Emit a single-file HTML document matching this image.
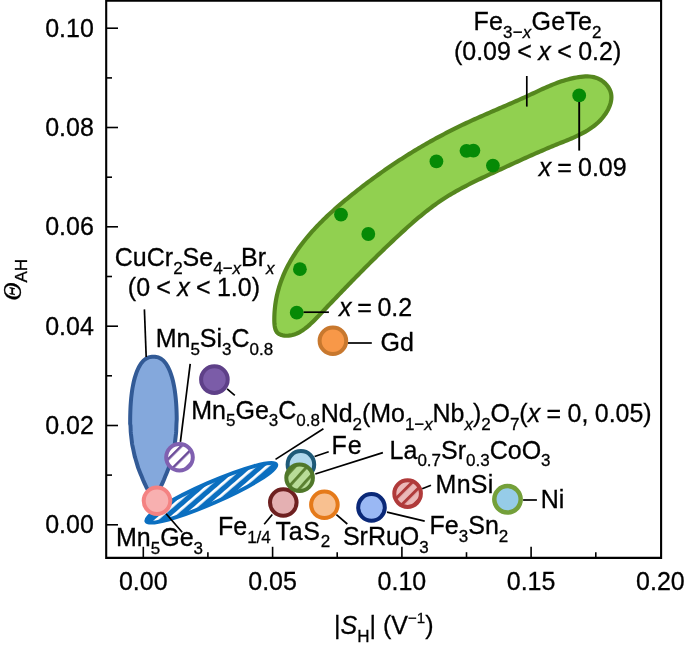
<!DOCTYPE html><html><head><meta charset="utf-8"><style>
html,body{margin:0;padding:0;background:#fff;width:685px;height:653px;overflow:hidden}
svg{display:block;will-change:transform}
text{font-family:"Liberation Sans",sans-serif;font-size:25px;fill:#000;stroke:#000;stroke-width:0.3px}
.s{font-size:17px}
.i{font-style:italic}
.th{font-family:"Liberation Serif",serif;font-style:italic}
</style></head><body>
<svg width="685" height="653" viewBox="0 0 685 653">
<defs>
<pattern id="hb" patternUnits="userSpaceOnUse" width="8" height="8" patternTransform="translate(211 492) rotate(72.7)">
<rect width="8" height="8" fill="#0b6fc0"/><rect x="0" y="0" width="2.8" height="8" fill="#fff"/></pattern>
<pattern id="hp" patternUnits="userSpaceOnUse" width="9.4" height="9.4" patternTransform="translate(179.5 457.2) rotate(45) translate(1.55 0)">
<rect width="9.4" height="9.4" fill="#fff"/><rect x="0" y="0" width="2.5" height="9.4" fill="#6a4a98"/></pattern>
<pattern id="hg" patternUnits="userSpaceOnUse" width="9" height="9" patternTransform="translate(299.6 477.8) rotate(42) translate(5.6 0)">
<rect width="9" height="9" fill="#b8dc98"/><rect x="0" y="0" width="2.9" height="9" fill="#5a8030"/></pattern>
<pattern id="hr" patternUnits="userSpaceOnUse" width="8.5" height="8.5" patternTransform="translate(407.6 493.6) rotate(45) translate(2.3 0)">
<rect width="8.5" height="8.5" fill="#ebb8b8"/><rect x="0" y="0" width="3" height="8.5" fill="#b03a3a"/></pattern>
</defs>

<path d="M106.2,557.9 L106.2,0.6 L661.1,0.6 L661.1,557.9 Z" fill="none" stroke="#000" stroke-width="2.1"/>
<line x1="106.2" y1="524.8" x2="118" y2="524.8" stroke="#000" stroke-width="1.6"/>
<line x1="106.2" y1="475.1" x2="112" y2="475.1" stroke="#000" stroke-width="1.6"/>
<line x1="106.2" y1="425.5" x2="118" y2="425.5" stroke="#000" stroke-width="1.6"/>
<line x1="106.2" y1="375.8" x2="112" y2="375.8" stroke="#000" stroke-width="1.6"/>
<line x1="106.2" y1="326.2" x2="118" y2="326.2" stroke="#000" stroke-width="1.6"/>
<line x1="106.2" y1="276.5" x2="112" y2="276.5" stroke="#000" stroke-width="1.6"/>
<line x1="106.2" y1="226.8" x2="118" y2="226.8" stroke="#000" stroke-width="1.6"/>
<line x1="106.2" y1="177.2" x2="112" y2="177.2" stroke="#000" stroke-width="1.6"/>
<line x1="106.2" y1="127.5" x2="118" y2="127.5" stroke="#000" stroke-width="1.6"/>
<line x1="106.2" y1="77.9" x2="112" y2="77.9" stroke="#000" stroke-width="1.6"/>
<line x1="106.2" y1="28.2" x2="118" y2="28.2" stroke="#000" stroke-width="1.6"/>
<line x1="143.3" y1="557.9" x2="143.3" y2="546.8" stroke="#000" stroke-width="1.6"/>
<line x1="207.9" y1="557.9" x2="207.9" y2="552.2" stroke="#000" stroke-width="1.6"/>
<line x1="272.6" y1="557.9" x2="272.6" y2="546.8" stroke="#000" stroke-width="1.6"/>
<line x1="337.2" y1="557.9" x2="337.2" y2="552.2" stroke="#000" stroke-width="1.6"/>
<line x1="401.9" y1="557.9" x2="401.9" y2="546.8" stroke="#000" stroke-width="1.6"/>
<line x1="466.5" y1="557.9" x2="466.5" y2="552.2" stroke="#000" stroke-width="1.6"/>
<line x1="531.1" y1="557.9" x2="531.1" y2="546.8" stroke="#000" stroke-width="1.6"/>
<line x1="595.8" y1="557.9" x2="595.8" y2="552.2" stroke="#000" stroke-width="1.6"/>
<text x="93.9" y="533.4" text-anchor="end">0.00</text>
<text x="93.9" y="434.1" text-anchor="end">0.02</text>
<text x="93.9" y="334.8" text-anchor="end">0.04</text>
<text x="93.9" y="235.4" text-anchor="end">0.06</text>
<text x="93.9" y="136.1" text-anchor="end">0.08</text>
<text x="93.9" y="36.8" text-anchor="end">0.10</text>
<text x="143.3" y="590.4" text-anchor="middle">0.00</text>
<text x="272.6" y="590.4" text-anchor="middle">0.05</text>
<text x="401.9" y="590.4" text-anchor="middle">0.10</text>
<text x="531.1" y="590.4" text-anchor="middle">0.15</text>
<text x="660.4" y="590.4" text-anchor="middle">0.20</text>
<text transform="translate(20.6,299.6) rotate(-90)"><tspan class="th" x="-1">Θ</tspan><tspan class="s" dy="6.4">AH</tspan></text>
<text x="334.1" y="633.8">|<tspan class="i">S</tspan><tspan class="s" dy="7.9">H</tspan><tspan dy="-7.9">| (V</tspan><tspan class="s" style="font-size:15px" dy="-11">−1</tspan><tspan dy="11">)</tspan></text>
<path d="M274.32,318.69 L274.36,316.34 L274.45,314.00 L274.59,311.69 L274.78,309.40 L275.01,307.12 L275.28,304.87 L275.60,302.63 L275.96,300.41 L276.37,298.21 L276.81,296.03 L277.30,293.87 L277.83,291.72 L278.40,289.59 L279.00,287.48 L279.65,285.39 L280.33,283.31 L281.06,281.25 L281.82,279.20 L282.61,277.17 L283.44,275.16 L284.31,273.16 L285.21,271.18 L286.14,269.22 L287.11,267.27 L288.11,265.33 L289.14,263.41 L290.20,261.50 L291.29,259.61 L292.41,257.74 L293.57,255.88 L294.75,254.03 L295.95,252.19 L297.19,250.37 L298.45,248.57 L299.74,246.77 L301.06,244.99 L302.39,243.23 L303.76,241.47 L305.14,239.73 L306.55,238.00 L307.98,236.29 L309.44,234.59 L310.91,232.90 L312.41,231.22 L313.92,229.55 L315.45,227.90 L317.00,226.25 L318.57,224.62 L320.16,223.00 L321.76,221.40 L323.37,219.80 L325.01,218.21 L326.65,216.64 L328.31,215.07 L329.98,213.52 L331.67,211.97 L333.36,210.44 L335.07,208.91 L336.79,207.40 L338.52,205.90 L340.25,204.40 L342.00,202.92 L343.75,201.44 L345.51,199.97 L347.27,198.51 L349.04,197.06 L350.82,195.62 L352.60,194.19 L354.38,192.77 L356.17,191.35 L357.96,189.94 L359.75,188.55 L361.54,187.16 L363.34,185.77 L365.14,184.40 L366.95,183.03 L368.75,181.68 L370.56,180.33 L372.38,178.99 L374.19,177.66 L376.01,176.33 L377.84,175.02 L379.66,173.71 L381.49,172.41 L383.33,171.12 L385.16,169.84 L387.01,168.56 L388.85,167.30 L390.70,166.04 L392.55,164.79 L394.41,163.54 L396.27,162.31 L398.13,161.08 L400.00,159.86 L401.87,158.65 L403.75,157.45 L405.63,156.26 L407.52,155.07 L409.41,153.89 L411.30,152.72 L413.20,151.56 L415.10,150.40 L417.01,149.25 L418.92,148.11 L420.84,146.98 L422.76,145.86 L424.69,144.74 L426.62,143.63 L428.55,142.53 L430.50,141.43 L432.44,140.35 L434.39,139.27 L436.35,138.20 L438.31,137.13 L440.28,136.08 L442.25,135.03 L444.23,133.99 L446.21,132.95 L448.20,131.93 L450.20,130.91 L452.20,129.90 L454.20,128.89 L456.21,127.90 L458.23,126.91 L460.25,125.93 L462.28,124.95 L464.32,123.98 L466.36,123.02 L468.41,122.07 L470.46,121.12 L472.52,120.18 L474.58,119.25 L476.65,118.32 L478.73,117.39 L480.81,116.47 L482.89,115.55 L484.97,114.64 L487.06,113.73 L489.15,112.82 L491.24,111.91 L493.33,111.01 L495.43,110.10 L497.52,109.20 L499.62,108.29 L501.71,107.39 L503.81,106.48 L505.90,105.58 L508.00,104.67 L510.09,103.76 L512.18,102.85 L514.26,101.93 L516.35,101.01 L518.43,100.09 L520.50,99.16 L522.57,98.23 L524.64,97.29 L526.70,96.34 L528.76,95.39 L530.81,94.44 L532.85,93.48 L534.89,92.53 L536.93,91.58 L538.96,90.63 L540.99,89.70 L543.01,88.77 L545.04,87.86 L547.08,86.96 L549.11,86.08 L551.15,85.23 L553.20,84.39 L555.25,83.58 L557.31,82.80 L559.38,82.06 L561.46,81.34 L563.56,80.66 L565.67,80.02 L567.79,79.41 L569.93,78.85 L572.09,78.34 L574.26,77.87 L576.46,77.45 L578.67,77.09 L580.89,76.79 L583.11,76.57 L585.31,76.44 L587.49,76.42 L589.63,76.52 L591.74,76.76 L593.80,77.14 L595.80,77.68 L597.75,78.40 L599.64,79.30 L601.46,80.39 L603.21,81.65 L604.84,83.07 L606.34,84.61 L607.68,86.26 L608.83,87.98 L609.79,89.76 L610.51,91.57 L611.02,93.40 L611.31,95.27 L611.41,97.18 L611.31,99.11 L611.04,101.06 L610.60,103.03 L610.00,105.00 L609.24,106.96 L608.35,108.91 L607.34,110.83 L606.21,112.71 L604.98,114.55 L603.66,116.32 L602.28,118.03 L600.83,119.67 L599.33,121.23 L597.77,122.72 L596.15,124.15 L594.49,125.52 L592.77,126.83 L591.01,128.09 L589.21,129.30 L587.36,130.46 L585.48,131.58 L583.56,132.65 L581.61,133.69 L579.62,134.70 L577.61,135.67 L575.58,136.62 L573.52,137.55 L571.44,138.45 L569.35,139.34 L567.24,140.21 L565.13,141.08 L563.00,141.94 L560.88,142.80 L558.75,143.66 L556.62,144.52 L554.50,145.39 L552.38,146.26 L550.27,147.14 L548.17,148.03 L546.07,148.91 L543.98,149.81 L541.89,150.70 L539.81,151.60 L537.73,152.51 L535.66,153.42 L533.59,154.33 L531.52,155.24 L529.46,156.16 L527.40,157.08 L525.35,158.01 L523.29,158.93 L521.24,159.86 L519.20,160.79 L517.15,161.72 L515.11,162.66 L513.06,163.59 L511.02,164.53 L508.98,165.47 L506.94,166.41 L504.90,167.35 L502.86,168.29 L500.82,169.23 L498.78,170.17 L496.74,171.11 L494.70,172.05 L492.65,173.00 L490.61,173.94 L488.56,174.89 L486.52,175.85 L484.47,176.81 L482.43,177.77 L480.39,178.74 L478.35,179.72 L476.32,180.70 L474.28,181.70 L472.25,182.70 L470.23,183.72 L468.21,184.75 L466.19,185.78 L464.18,186.84 L462.18,187.90 L460.18,188.98 L458.19,190.08 L456.20,191.19 L454.23,192.32 L452.26,193.47 L450.30,194.63 L448.35,195.82 L446.42,197.03 L444.49,198.25 L442.57,199.50 L440.66,200.77 L438.77,202.07 L436.89,203.38 L435.02,204.72 L433.17,206.07 L431.32,207.44 L429.49,208.83 L427.67,210.24 L425.86,211.66 L424.06,213.10 L422.27,214.54 L420.50,216.01 L418.73,217.48 L416.97,218.96 L415.23,220.46 L413.49,221.96 L411.76,223.47 L410.04,224.99 L408.33,226.51 L406.63,228.04 L404.94,229.57 L403.26,231.11 L401.58,232.64 L399.91,234.18 L398.25,235.72 L396.60,237.27 L394.95,238.81 L393.31,240.35 L391.68,241.89 L390.05,243.43 L388.42,244.98 L386.81,246.52 L385.19,248.07 L383.59,249.62 L381.98,251.16 L380.38,252.72 L378.79,254.27 L377.20,255.82 L375.61,257.38 L374.02,258.94 L372.44,260.50 L370.86,262.06 L369.29,263.63 L367.71,265.20 L366.14,266.77 L364.57,268.35 L362.99,269.93 L361.42,271.51 L359.86,273.10 L358.29,274.69 L356.72,276.28 L355.15,277.88 L353.58,279.48 L352.01,281.09 L350.44,282.70 L348.87,284.32 L347.29,285.94 L345.72,287.56 L344.14,289.19 L342.56,290.83 L340.98,292.47 L339.39,294.12 L337.81,295.77 L336.21,297.43 L334.62,299.09 L333.02,300.76 L331.42,302.44 L329.81,304.12 L328.19,305.81 L326.58,307.51 L324.95,309.21 L323.32,310.92 L321.69,312.64 L320.05,314.36 L318.41,316.09 L316.76,317.80 L315.11,319.49 L313.44,321.15 L311.77,322.77 L310.09,324.34 L308.40,325.85 L306.69,327.28 L304.96,328.63 L303.22,329.89 L301.47,331.06 L299.69,332.11 L297.90,333.04 L296.09,333.85 L294.25,334.52 L292.39,335.06 L290.50,335.44 L288.58,335.67 L286.61,335.74 L284.63,335.63 L282.71,335.34 L280.92,334.85 L279.34,334.17 L278.02,333.31 L276.97,332.26 L276.12,330.96 L275.46,329.38 L274.96,327.55 L274.62,325.51 L274.41,323.32 L274.32,321.03Z" fill="#91d050" stroke="#55871e" stroke-width="4.2" stroke-linejoin="round"/>
<circle cx="296.7" cy="312.7" r="6.9" fill="#068a06"/>
<circle cx="299.9" cy="269.2" r="6.9" fill="#068a06"/>
<circle cx="341.0" cy="214.6" r="6.9" fill="#068a06"/>
<circle cx="368.3" cy="234.0" r="6.9" fill="#068a06"/>
<circle cx="436.4" cy="161.4" r="6.9" fill="#068a06"/>
<circle cx="466.5" cy="150.8" r="6.9" fill="#068a06"/>
<circle cx="473.4" cy="150.6" r="6.9" fill="#068a06"/>
<circle cx="492.9" cy="165.6" r="6.9" fill="#068a06"/>
<circle cx="579.2" cy="95.4" r="6.9" fill="#068a06"/>
<line x1="303.6" y1="312.2" x2="328.9" y2="312.2" stroke="#000" stroke-width="1.7"/>
<line x1="579.2" y1="102" x2="579.2" y2="150.6" stroke="#000" stroke-width="1.9"/>
<line x1="526.8" y1="76" x2="526.8" y2="106.6" stroke="#000" stroke-width="1.7"/>
<path d="M130.15,423.89 L130.17,419.36 L130.21,415.74 L130.30,412.44 L130.41,409.34 L130.55,406.38 L130.73,403.55 L130.94,400.82 L131.18,398.19 L131.45,395.64 L131.75,393.18 L132.08,390.80 L132.44,388.49 L132.83,386.27 L133.26,384.12 L133.71,382.04 L134.19,380.05 L134.69,378.13 L135.23,376.29 L135.79,374.53 L136.37,372.85 L136.99,371.25 L137.62,369.73 L138.29,368.29 L138.97,366.94 L139.67,365.68 L140.40,364.50 L141.14,363.40 L141.91,362.40 L142.69,361.48 L143.49,360.65 L144.30,359.90 L145.13,359.24 L145.97,358.67 L146.84,358.17 L147.74,357.76 L148.66,357.42 L149.64,357.15 L150.69,356.96 L151.86,356.84 L153.45,356.80 L155.04,356.84 L156.21,356.96 L157.26,357.15 L158.24,357.42 L159.16,357.76 L160.06,358.17 L160.93,358.67 L161.77,359.24 L162.60,359.90 L163.41,360.65 L164.21,361.48 L164.99,362.40 L165.76,363.40 L166.50,364.50 L167.23,365.68 L167.93,366.94 L168.61,368.29 L169.28,369.73 L169.91,371.25 L170.53,372.85 L171.11,374.53 L171.67,376.29 L172.21,378.13 L172.71,380.05 L173.19,382.04 L173.64,384.12 L174.07,386.27 L174.46,388.49 L174.82,390.80 L175.15,393.18 L175.45,395.64 L175.72,398.19 L175.96,400.82 L176.17,403.55 L176.35,406.38 L176.49,409.34 L176.60,412.44 L176.69,415.74 L176.73,419.28 L176.45,423.89 L176.38,425.88 L176.31,427.83 L176.24,429.77 L176.17,431.66 L176.00,433.54 L175.77,435.46 L175.55,437.41 L175.33,439.36 L175.10,441.31 L174.89,443.21 L174.58,445.06 L174.17,446.96 L173.75,448.91 L173.33,450.86 L172.91,452.81 L172.50,454.75 L172.07,456.62 L171.50,458.50 L170.92,460.45 L170.34,462.40 L169.75,464.35 L169.17,466.30 L168.61,468.16 L167.87,470.02 L167.09,471.96 L166.29,473.91 L165.50,475.86 L164.71,477.81 L163.93,479.73 L163.09,481.64 L162.20,483.58 L161.31,485.52 L160.45,487.39 L159.39,489.24 L158.22,491.17 L157.06,493.11 L156.01,494.82 L154.12,496.60 L153.45,498.00 L152.78,496.60 L150.89,494.82 L149.84,493.11 L148.68,491.17 L147.51,489.24 L146.45,487.39 L145.59,485.52 L144.70,483.58 L143.81,481.64 L142.97,479.73 L142.19,477.81 L141.40,475.86 L140.61,473.91 L139.81,471.96 L139.03,470.02 L138.29,468.16 L137.73,466.30 L137.15,464.35 L136.56,462.40 L135.98,460.45 L135.40,458.50 L134.83,456.62 L134.40,454.75 L133.99,452.81 L133.57,450.86 L133.15,448.91 L132.73,446.96 L132.32,445.06 L132.01,443.21 L131.80,441.31 L131.57,439.36 L131.35,437.41 L131.13,435.46 L130.90,433.54 L130.73,431.66 L130.66,429.77 L130.59,427.83 L130.51,425.72Z" fill="#84a8dc" stroke="#325a96" stroke-width="4"/>
<line x1="144.4" y1="309.4" x2="146.2" y2="357" stroke="#000" stroke-width="1.7"/>
<ellipse cx="211.3" cy="492.8" rx="70.8" ry="10.3" transform="rotate(-23.6 211.3 492.8)" fill="url(#hb)" stroke="#0b6fc0" stroke-width="3.9"/>
<circle cx="332.9" cy="340.8" r="13.3" fill="#f89848" stroke="#c8782e" stroke-width="4"/>
<circle cx="214.4" cy="379.6" r="13.3" fill="#7b5ca8" stroke="#5e4088" stroke-width="4"/>
<circle cx="179.5" cy="457.2" r="13.3" fill="url(#hp)" stroke="#8060b0" stroke-width="4"/>
<circle cx="157.0" cy="500.8" r="13.3" fill="#f8b0b0" stroke="#f48282" stroke-width="4"/>
<circle cx="283.3" cy="502.5" r="13.3" fill="#e4b0b2" stroke="#6e2020" stroke-width="4"/>
<circle cx="300.9" cy="464.4" r="13.3" fill="#b0d8ec" stroke="#1e5a78" stroke-width="4"/>
<circle cx="299.6" cy="477.8" r="13.3" fill="url(#hg)" stroke="#50782a" stroke-width="4"/>
<circle cx="324.4" cy="504.8" r="13.3" fill="#f8c090" stroke="#e57a1a" stroke-width="4"/>
<circle cx="371.5" cy="507.4" r="13.3" fill="#9ab8f4" stroke="#0a2878" stroke-width="4"/>
<circle cx="407.6" cy="493.6" r="13.3" fill="url(#hr)" stroke="#b03a3a" stroke-width="4"/>
<circle cx="507.5" cy="499.3" r="13.2" fill="#96cce8" stroke="#74a03a" stroke-width="4.5"/>
<line x1="348" y1="343" x2="371.8" y2="343" stroke="#000" stroke-width="1.7"/>
<line x1="190.2" y1="363.8" x2="180.4" y2="441.9" stroke="#000" stroke-width="1.7"/>
<line x1="227.1" y1="388.8" x2="234.8" y2="395.4" stroke="#000" stroke-width="1.7"/>
<line x1="275.5" y1="459.4" x2="323.4" y2="428.8" stroke="#000" stroke-width="1.7"/>
<line x1="314.6" y1="456.5" x2="328.7" y2="451.8" stroke="#000" stroke-width="1.7"/>
<line x1="315.3" y1="474" x2="382.9" y2="452.6" stroke="#000" stroke-width="1.7"/>
<line x1="422.2" y1="488.8" x2="431" y2="485.3" stroke="#000" stroke-width="1.7"/>
<line x1="523.1" y1="500" x2="536.9" y2="500" stroke="#000" stroke-width="1.7"/>
<line x1="166.1" y1="513.8" x2="182.2" y2="532.2" stroke="#000" stroke-width="1.7"/>
<line x1="272.3" y1="514.5" x2="264.2" y2="524.2" stroke="#000" stroke-width="1.7"/>
<line x1="336.4" y1="514.6" x2="347.3" y2="524" stroke="#000" stroke-width="1.7"/>
<line x1="387" y1="512.2" x2="424.7" y2="521.1" stroke="#000" stroke-width="1.7"/>
<text x="473.45" y="30.4" style="letter-spacing:0.2px">Fe<tspan class="s" dy="7.9">3−<tspan class="i">x</tspan></tspan><tspan dy="-7.9">GeTe</tspan><tspan class="s" dy="7.9">2</tspan></text>
<text x="453.95" y="60.3" style="word-spacing:-0.55px">(0.09 &lt; <tspan class="i">x</tspan> &lt; 0.2)</text>
<text x="538.8" y="175.6" style="word-spacing:-0.9px"><tspan class="i">x</tspan> = 0.09</text>
<text x="339" y="315.6" style="word-spacing:-1.3px"><tspan class="i">x</tspan> = 0.2</text>
<text x="380.5" y="350.5">Gd</text>
<text x="114.8" y="265.8">CuCr<tspan class="s" dy="7.9">2</tspan><tspan dy="-7.9">Se</tspan><tspan class="s" dy="7.9">4−<tspan class="i">x</tspan></tspan><tspan dy="-7.9">Br</tspan><tspan class="s i" dy="7.9">x</tspan></text>
<text x="127.85" y="295.5" style="word-spacing:-0.65px">(0 &lt; <tspan class="i">x</tspan> &lt; 1.0)</text>
<text x="155.65" y="347.3">Mn<tspan class="s" dy="7.9">5</tspan><tspan dy="-7.9">Si</tspan><tspan class="s" dy="7.9">3</tspan><tspan dy="-7.9">C</tspan><tspan class="s" dy="7.9">0.8</tspan></text>
<text x="191.25" y="418.5">Mn<tspan class="s" dy="7.9">5</tspan><tspan dy="-7.9">Ge</tspan><tspan class="s" dy="7.9">3</tspan><tspan dy="-7.9">C</tspan><tspan class="s" dy="7.9">0.8</tspan></text>
<text x="320.75" y="422.3" style="letter-spacing:-0.06px;word-spacing:-0.4px">Nd<tspan class="s" dy="7.9">2</tspan><tspan dy="-7.9">(Mo</tspan><tspan class="s" dy="7.9">1−<tspan class="i">x</tspan></tspan><tspan dy="-7.9">Nb</tspan><tspan class="s i" dy="7.9">x</tspan><tspan dy="-7.9">)</tspan><tspan class="s" dy="7.9">2</tspan><tspan dy="-7.9">O</tspan><tspan class="s" dy="7.9">7</tspan><tspan dy="-7.9">(<tspan class="i">x</tspan> = 0, 0.05)</tspan></text>
<text x="331.5" y="454.3" style="letter-spacing:0.9px">Fe</text>
<text x="389.6" y="458.5">La<tspan class="s" dy="7.9">0.7</tspan><tspan dy="-7.9">Sr</tspan><tspan class="s" dy="7.9">0.3</tspan><tspan dy="-7.9">CoO</tspan><tspan class="s" dy="7.9">3</tspan></text>
<text x="435.5" y="492.8" style="letter-spacing:0.3px">MnSi</text>
<text x="540.65" y="508.4">Ni</text>
<text x="116.05" y="545.9">Mn<tspan class="s" dy="7.9">5</tspan><tspan dy="-7.9">Ge</tspan><tspan class="s" dy="7.9">3</tspan></text>
<text x="217.95" y="534.8">Fe<tspan class="s" dy="7.9">1/4</tspan></text>
<text x="275.5" y="539.5" style="letter-spacing:0.7px">TaS<tspan class="s" dy="7.9">2</tspan></text>
<text x="342.9" y="544.9">SrRuO<tspan class="s" dy="7.9">3</tspan></text>
<text x="429.55" y="533.9">Fe<tspan class="s" dy="7.9">3</tspan><tspan dy="-7.9">Sn</tspan><tspan class="s" dy="7.9">2</tspan></text>
</svg></body></html>
